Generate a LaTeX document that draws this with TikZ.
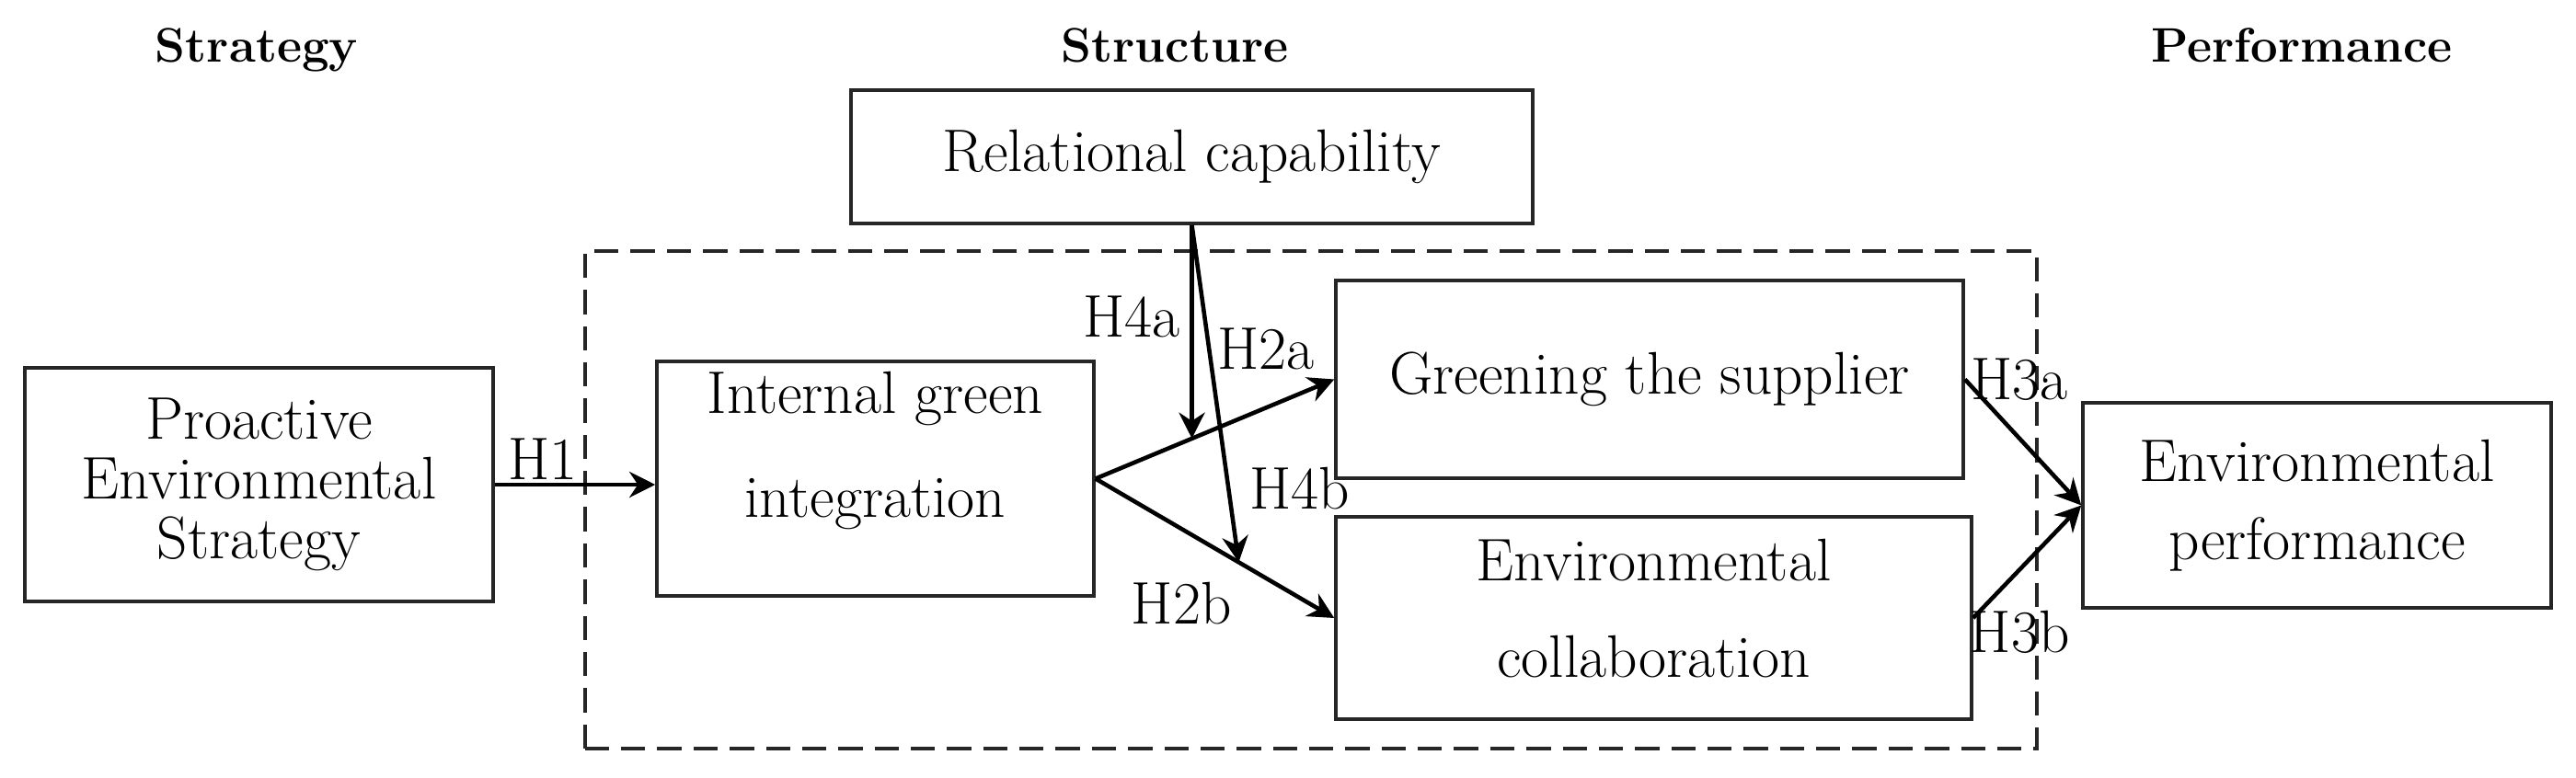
\documentclass[tikz,border=0pt]{standalone}
\usepackage{tikz}
\usetikzlibrary{arrows.meta,positioning,calc}

\begin{document}
\begin{tikzpicture}[
  font=\fontsize{18.6}{18.5}\selectfont,
  >={Stealth[length=8pt,width=8pt]},
  box/.style={rectangle, draw=black!85, line width=1pt, align=center, inner sep=2pt},
  head/.style={font=\fontsize{15}{18}\selectfont\bfseries, anchor=base},
  link/.style={->, line width=1.3pt},
  hlbl/.style={inner sep=1pt},
  zone/.style={draw=black!85, line width=1.1pt, dash pattern=on 7.5pt off 3.7pt},
]
\useasboundingbox (0,0) rectangle (28,8.45);

% headings
\node[head] (hstrat) at (2.79,7.77)  {Strategy};
\node[head] (hstruc) at (12.77,7.77) {Structure};
\node[head] (hperf)  at (25.02,7.77) {Performance};

% dashed structure zone
\coordinate (zsw) at (6.36,0.31);
\coordinate (zne) at (22.14,5.72);
\draw[zone] (zsw) rectangle (zne);

% boxes
\node[box, minimum width=5.09cm, minimum height=2.54cm] (pes) at (2.815,3.18)  {Proactive\\Environmental\\Strategy};
\node[box, minimum width=4.75cm, minimum height=2.55cm, text depth=0.75cm] (igi) at (9.515,3.245) {Internal green\\[0.48cm]integration};
\node[box, minimum width=7.41cm, minimum height=1.45cm] (rc)  at (12.955,6.745) {Relational capability};
\node[box, minimum width=6.82cm, minimum height=2.15cm] (gs)  at (17.93,4.325)  {Greening the supplier};
\node[box, minimum width=6.91cm, minimum height=2.2cm, text depth=0.22cm] (ec) at (17.975,1.73) {Environmental\\[0.4cm]collaboration};
\node[box, minimum width=5.09cm, minimum height=2.23cm] (ep)  at (25.185,2.955) {Environmental\\[0.2cm]performance};

% moderation points
\path (igi.east) -- coordinate[pos=0.405] (m4a) (gs.west);
\path (igi.east) -- coordinate[pos=0.6] (m4b) (ec.west);

% connectors
\draw[link] (pes.east) -- node[hlbl, pos=0.3, above] {H1} (pes.east -| igi.west);
\draw[link] (igi.east) -- node[hlbl, pos=0.715, above=10pt] {H2a} (gs.west);
\draw[link] (igi.east) -- node[hlbl, pos=0.36, below=15pt] {H2b} (ec.west);
\draw[link] (rc.south) -- node[hlbl, pos=0.43, left=2pt] {H4a} (rc.south |- m4a);
\draw[link] (rc.south) -- node[hlbl, pos=0.78, right=5pt] {H4b} (m4b);
\draw[link] (gs.east) -- node[hlbl, pos=0.47, above=10pt] {H3a} (ep.west);
\draw[link] (ec.east) -- node[hlbl, pos=0.43, below=11pt] {H3b} (ep.west);

\end{tikzpicture}
\end{document}
